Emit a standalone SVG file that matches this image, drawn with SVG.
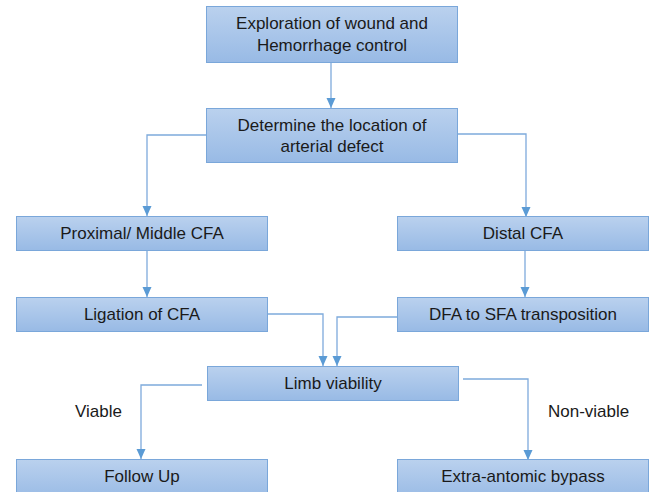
<svg xmlns="http://www.w3.org/2000/svg" width="663" height="492" viewBox="0 0 663 492">
<defs>
<linearGradient id="g" x1="0" y1="0" x2="0" y2="1">
<stop offset="0" stop-color="#bad1ee"/>
<stop offset="1" stop-color="#98bae5"/>
</linearGradient>
<marker id="a" markerUnits="userSpaceOnUse" markerWidth="10" markerHeight="10" viewBox="0 0 10 10" refX="10" refY="5" orient="auto">
<path d="M0,0.5 L10,5 L0,9.5 Z" fill="#5b9bd5"/>
</marker>
</defs>
<style>
.box{fill:url(#g);stroke:#7aa7da;stroke-width:1}
.t{font-family:"Liberation Sans",Arial,sans-serif;font-size:17px;fill:#1a1a1a;text-anchor:middle}
.c{fill:none;stroke:#7eaadc;stroke-width:1.3}
.lbl{font-family:"Liberation Sans",Arial,sans-serif;font-size:17px;fill:#1a1a1a}
</style>
<rect width="663" height="492" fill="#ffffff"/>
<g id="connectors">
<path class="c" d="M331,63 V108" marker-end="url(#a)"/>
<path class="c" d="M206,135 H147 V216" marker-end="url(#a)"/>
<path class="c" d="M458,134 H526 V217" marker-end="url(#a)"/>
<path class="c" d="M147,250 V297" marker-end="url(#a)"/>
<path class="c" d="M525,250 V297" marker-end="url(#a)"/>
<path class="c" d="M267,314 H323 V366" marker-end="url(#a)"/>
<path class="c" d="M397,317 H337 V366" marker-end="url(#a)"/>
<path class="c" d="M202,385 H141 V459" marker-end="url(#a)"/>
<path class="c" d="M463,379 H528 V460" marker-end="url(#a)"/>
</g>
<g id="n1"><rect class="box" x="206.5" y="6.5" width="251" height="56"/>
<text class="t" x="332" y="29">Exploration of wound and</text>
<text class="t" x="332" y="51">Hemorrhage control</text></g>
<g id="n2"><rect class="box" x="206.5" y="108.5" width="251" height="54"/>
<text class="t" x="332" y="131">Determine the location of</text>
<text class="t" x="332" y="152">arterial defect</text></g>
<g id="n3"><rect class="box" x="16.5" y="216.5" width="251" height="34"/>
<text class="t" x="142" y="239">Proximal/ Middle CFA</text></g>
<g id="n4"><rect class="box" x="397.5" y="216.5" width="251" height="34"/>
<text class="t" x="523" y="239">Distal CFA</text></g>
<g id="n5"><rect class="box" x="16.5" y="297.5" width="251" height="34"/>
<text class="t" x="142" y="320">Ligation of CFA</text></g>
<g id="n6"><rect class="box" x="397.5" y="297.5" width="251" height="34"/>
<text class="t" x="523" y="320">DFA to SFA transposition</text></g>
<g id="n7"><rect class="box" x="207.5" y="366.5" width="251" height="34"/>
<text class="t" x="333" y="389">Limb viability</text></g>
<g id="n8"><rect class="box" x="16.5" y="459.5" width="251" height="40"/>
<text class="t" x="142" y="482">Follow Up</text></g>
<g id="n9"><rect class="box" x="397.5" y="459.5" width="251" height="40"/>
<text class="t" x="523" y="482">Extra-antomic bypass</text></g>
<text class="lbl" x="75" y="417">Viable</text>
<text class="lbl" x="548" y="417">Non-viable</text>
</svg>
